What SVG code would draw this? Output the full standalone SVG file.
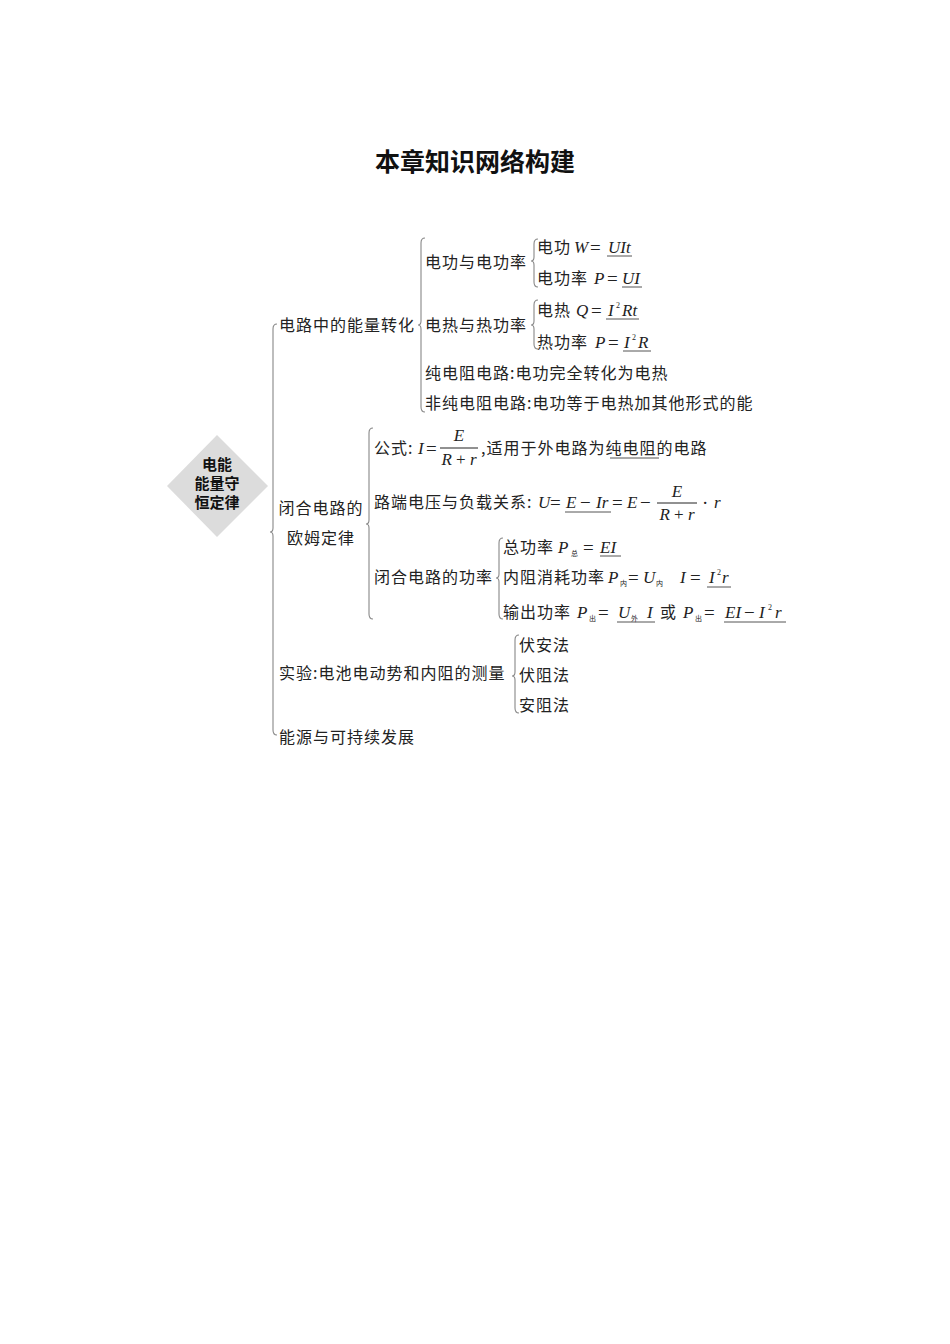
<svg xmlns="http://www.w3.org/2000/svg" width="950" height="1344" viewBox="0 0 950 1344">
<style>
.c{font-family:"Noto Sans CJK SC","Noto Sans",sans-serif;font-size:16px;letter-spacing:1px;fill:#222}
.m{font-family:"Liberation Serif",serif;font-style:italic;font-size:17px;fill:#222}
.o{font-family:"Liberation Serif",serif;font-size:19px;fill:#222}
.s{font-family:"Noto Sans CJK SC",sans-serif;font-size:7px;fill:#222}
.p{font-family:"Liberation Serif",serif;font-size:8px;fill:#222}
.br{fill:none;stroke:#888;stroke-width:1.1}
.u{stroke:#555;stroke-width:1}
.t{font-family:"Noto Sans CJK SC",sans-serif;font-weight:700;fill:#111}
</style>
<rect width="950" height="1344" fill="#fff"/>
<text class="t" x="475" y="171" font-size="25" text-anchor="middle">本章知识网络构建</text>

<g id="root">
<polygon points="217,435 268,486 217,537 167,486" fill="#dcdcdc"/>
<text class="t" font-size="15" text-anchor="middle"><tspan x="217" y="470">电能</tspan><tspan x="217" y="489">能量守</tspan><tspan x="217" y="508">恒定律</tspan></text>
</g>

<g id="connectors">
<path class="br" d="M277 324 Q273 324 273 329 V528 Q273 532 270 532 Q273 532 273 536 V730 Q273 735 277 735"/>
<path class="br" d="M425 238 Q421 238 421 243 V321 Q421 325 418 325 Q421 325 421 329 V407 Q421 412 425 412"/>
<path class="br" d="M538 239 Q534 239 534 244 V257 Q534 261 531 261 Q534 261 534 265 V282 Q534 287 538 287"/>
<path class="br" d="M538 300 Q534 300 534 305 V321 Q534 325 531 325 Q534 325 534 329 V344 Q534 349 538 349"/>
<path class="br" d="M373 428 Q369 428 369 433 V520 Q369 524 366 524 Q369 524 369 528 V614 Q369 619 373 619"/>
<path class="br" d="M503 538 Q499 538 499 543 V574 Q499 578 496 578 Q499 578 499 582 V614 Q499 619 503 619"/>
<path class="br" d="M519 635 Q515 635 515 640 V672 Q515 676 512 676 Q515 676 515 680 V708 Q515 713 519 713"/>
</g>

<g id="n-energy"><text class="c" x="279" y="331">电路中的能量转化</text></g>
<g id="n-work"><text class="c" x="425" y="268">电功与电功率</text></g>
<g id="n-work1">
<text class="c" x="537" y="253">电功</text>
<text class="m" x="574" y="253">W</text><text class="o" x="590" y="254">=</text><text class="m" x="608" y="253">UIt</text>
<line class="u" x1="607" y1="256" x2="632" y2="256"/>
</g>
<g id="n-work2">
<text class="c" x="537" y="284">电功率</text>
<text class="m" x="594" y="284">P</text><text class="o" x="607" y="285">=</text><text class="m" x="622" y="284">UI</text>
<line class="u" x1="622" y1="287" x2="642" y2="287"/>
</g>
<g id="n-heat"><text class="c" x="425" y="331">电热与热功率</text></g>
<g id="n-heat1">
<text class="c" x="537" y="316">电热</text>
<text class="m" x="576" y="316">Q</text><text class="o" x="591" y="317">=</text><text class="m" x="608" y="316">I</text><text class="p" x="616" y="308">2</text><text class="m" x="622" y="316">Rt</text>
<line class="u" x1="606" y1="319" x2="639" y2="319"/>
</g>
<g id="n-heat2">
<text class="c" x="537" y="348">热功率</text>
<text class="m" x="595" y="348">P</text><text class="o" x="608" y="349">=</text><text class="m" x="624" y="348">I</text><text class="p" x="632" y="340">2</text><text class="m" x="638" y="348">R</text>
<line class="u" x1="623" y1="351" x2="651" y2="351"/>
</g>
<g id="n-pure"><text class="c" x="425" y="379">纯电阻电路:电功完全转化为电热</text></g>
<g id="n-nonpure"><text class="c" x="425" y="409">非纯电阻电路:电功等于电热加其他形式的能</text></g>

<g id="n-ohm"><text class="c" text-anchor="middle"><tspan x="321" y="514">闭合电路的</tspan><tspan x="321" y="544">欧姆定律</tspan></text></g>
<g id="n-formula">
<text class="c" x="374" y="454">公式:</text>
<text class="m" x="418" y="454">I</text><text class="o" x="426" y="455">=</text>
<text class="m" x="459" y="441" text-anchor="middle">E</text>
<line x1="440" y1="448" x2="478" y2="448" stroke="#222" stroke-width="1"/>
<text class="m" x="459" y="465" text-anchor="middle">R<tspan font-style="normal"> + </tspan>r</text>
<text class="c" x="481" y="454">,适用于外电路为纯电阻的电路</text>
<line class="u" x1="610" y1="458" x2="659" y2="458"/>
</g>
<g id="n-voltage">
<text class="c" x="374" y="508">路端电压与负载关系:</text>
<text class="m" x="538" y="508">U</text><text class="o" x="550" y="509">=</text>
<text class="m" x="566" y="508">E</text><text class="o" x="580" y="509">−</text><text class="m" x="596" y="508">Ir</text>
<line class="u" x1="565" y1="512" x2="611" y2="512"/>
<text class="o" x="612" y="509">=</text><text class="m" x="627" y="508">E</text><text class="o" x="640" y="509">−</text>
<text class="m" x="677" y="497" text-anchor="middle">E</text>
<line x1="657" y1="503" x2="697" y2="503" stroke="#222" stroke-width="1"/>
<text class="m" x="677" y="520" text-anchor="middle">R<tspan font-style="normal"> + </tspan>r</text>
<text class="o" x="702" y="509">·</text><text class="m" x="714" y="508">r</text>
</g>
<g id="n-power"><text class="c" x="374" y="583">闭合电路的功率</text></g>
<g id="n-power1">
<text class="c" x="503" y="553">总功率</text>
<text class="m" x="558" y="553">P</text><text class="s" x="571" y="556">总</text><text class="o" x="583" y="554">=</text><text class="m" x="600" y="553">EI</text>
<line class="u" x1="600" y1="556" x2="621" y2="556"/>
</g>
<g id="n-power2">
<text class="c" x="503" y="583">内阻消耗功率</text>
<text class="m" x="608" y="583">P</text><text class="s" x="620" y="586">内</text><text class="o" x="628" y="584">=</text><text class="m" x="643" y="583">U</text><text class="s" x="656" y="586">内</text>
<text class="m" x="680" y="583">I</text><text class="o" x="690" y="584">=</text><text class="m" x="709" y="583">I</text><text class="p" x="717" y="575">2</text><text class="m" x="722" y="583">r</text>
<line class="u" x1="707" y1="587" x2="731" y2="587"/>
</g>
<g id="n-power3">
<text class="c" x="503" y="618">输出功率</text>
<text class="m" x="577" y="618">P</text><text class="s" x="589" y="621">出</text><text class="o" x="598" y="619">=</text>
<text class="m" x="618" y="618">U</text><text class="s" x="631" y="621">外</text><text class="m" x="647" y="618">I</text>
<line class="u" x1="617" y1="622" x2="655" y2="622"/>
<text class="c" x="660" y="618">或</text>
<text class="m" x="683" y="618">P</text><text class="s" x="695" y="621">出</text><text class="o" x="704" y="619">=</text>
<text class="m" x="725" y="618">EI</text><text class="o" x="744" y="619">−</text><text class="m" x="759" y="618">I</text><text class="p" x="768" y="610">2</text><text class="m" x="775" y="618">r</text>
<line class="u" x1="724" y1="622" x2="786" y2="622"/>
</g>

<g id="n-exp"><text class="c" x="279" y="679">实验:电池电动势和内阻的测量</text></g>
<g id="n-exp1"><text class="c" x="519" y="651">伏安法</text></g>
<g id="n-exp2"><text class="c" x="519" y="681">伏阻法</text></g>
<g id="n-exp3"><text class="c" x="519" y="711">安阻法</text></g>
<g id="n-energy2"><text class="c" x="279" y="743">能源与可持续发展</text></g>
</svg>
